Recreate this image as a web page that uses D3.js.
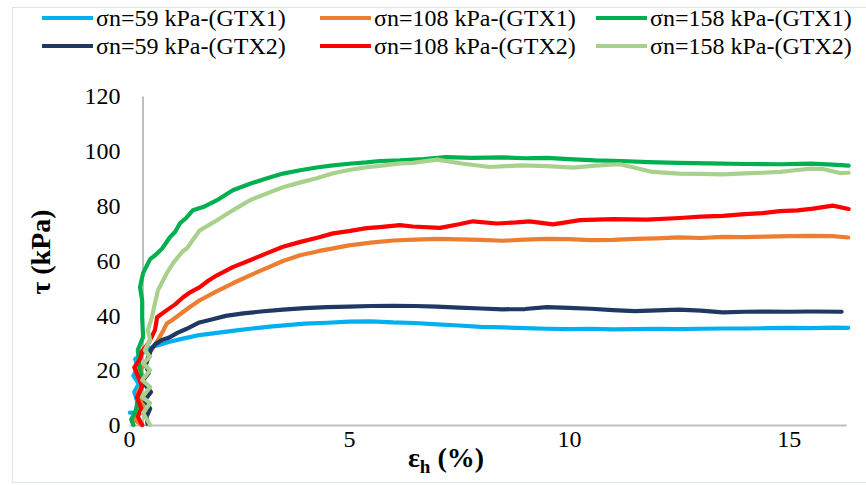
<!DOCTYPE html>
<html><head><meta charset="utf-8">
<script src="https://cdn.jsdelivr.net/npm/d3@7/dist/d3.min.js"></script>
<style>body{margin:0;background:#fff}svg{display:block}</style>
</head><body><svg id="c" width="866" height="485"></svg>
<script>
const seriesNames = ["σn=59 kPa-(GTX1)","σn=108 kPa-(GTX1)","σn=158 kPa-(GTX1)","σn=59 kPa-(GTX2)","σn=108 kPa-(GTX2)","σn=158 kPa-(GTX2)"];
const seriesColors = ["#00B0F0","#ED7D31","#00B050","#1F3864","#FF0000","#A9D18E"];
const xTicks = [0,5,10,15];
const yTicks = [0,20,40,60,80,100,120];

const s59GTX1 = [[0.02,4.5],[0.15,4.6],[0.3,4.8],[0.2,8],[0.12,12],[0.22,15],[0.1,18],[0.2,21],[0.14,24],[0.3,26],[0.4,27.5],[0.55,28.6],[0.7,29.3],[0.9,30.3],[1.2,31.4],[1.6,32.8],[2.0,33.6],[2.4,34.4],[2.8,35.2],[3.2,35.9],[3.6,36.4],[4.0,37.0],[4.5,37.3],[5.0,37.7],[5.5,37.8],[6.0,37.4],[6.5,37.2],[7.0,36.7],[7.5,36.3],[8.0,35.8],[8.5,35.6],[9.0,35.3],[9.5,35.1],[10.0,35.0],[10.5,35.1],[11.0,34.9],[11.5,35.0],[12.0,35.1],[12.5,35.0],[13.0,35.1],[13.5,35.2],[14.0,35.2],[14.5,35.3],[15.0,35.4],[15.5,35.3],[16.0,35.5],[16.35,35.4]];
const s108GTX1 = [[0.3,0],[0.1,2],[0.2,5],[0.35,4],[0.3,8],[0.2,12],[0.35,16],[0.25,20],[0.4,23],[0.45,26],[0.55,28.4],[0.66,31],[0.78,34.5],[0.86,37],[1.0,38.5],[1.23,41.2],[1.4,43.2],[1.61,45.5],[2.0,48.8],[2.36,51.7],[2.75,54.6],[3.14,57.3],[3.5,59.8],[3.89,61.9],[4.3,63.4],[4.7,64.6],[5.0,65.5],[5.5,66.5],[6.0,67.3],[6.5,67.6],[7.0,67.9],[7.5,67.7],[8.0,67.5],[8.5,67.2],[9.0,67.6],[9.5,67.9],[10.0,67.8],[10.5,67.4],[11.0,67.5],[11.5,67.9],[12.0,68.1],[12.5,68.4],[13.0,68.2],[13.5,68.6],[14.0,68.5],[14.5,68.7],[15.0,68.9],[15.5,69.0],[16.0,68.9],[16.35,68.4]];
const s158GTX1 = [[0.1,0],[0.05,2],[0.15,5],[0.2,9],[0.3,15.3],[0.25,21],[0.2,27.3],[0.32,32],[0.3,39.3],[0.3,45.5],[0.25,50.3],[0.32,55.4],[0.48,60.5],[0.6,62],[0.75,64.3],[0.93,68.5],[1.05,70.5],[1.16,73.6],[1.3,75.5],[1.45,78.3],[1.7,79.6],[2.0,82],[2.36,85.6],[2.75,88],[3.14,90],[3.5,91.7],[3.89,92.9],[4.3,94.0],[4.64,94.7],[5.0,95.3],[5.4,95.8],[5.7,96.3],[6.16,96.5],[6.7,97.0],[7.2,97.7],[7.8,97.4],[8.5,97.6],[9.0,97.3],[9.5,97.4],[10.0,97.0],[10.6,96.5],[11.2,96.3],[11.8,95.9],[12.5,95.6],[13.2,95.4],[14.0,95.2],[14.8,95.1],[15.5,95.3],[16.0,95.0],[16.36,94.6]];
const s59GTX2 = [[0.42,0.5],[0.4,3],[0.48,6],[0.36,9],[0.5,12],[0.4,14],[0.3,16],[0.45,19],[0.38,22],[0.45,25],[0.5,27.5],[0.6,29.5],[0.75,31],[0.9,31.8],[1.1,33.6],[1.3,35],[1.6,37.4],[1.9,38.6],[2.2,39.8],[2.6,40.7],[3.0,41.4],[3.5,42.1],[4.0,42.6],[4.5,43.0],[5.0,43.2],[5.5,43.4],[6.0,43.5],[6.5,43.4],[7.0,43.2],[7.5,42.8],[8.0,42.5],[8.5,42.2],[9.0,42.3],[9.5,43.0],[10.0,42.7],[10.5,42.4],[11.0,41.9],[11.5,41.5],[12.0,41.8],[12.5,42.1],[13.0,41.7],[13.5,41.1],[14.0,41.3],[14.5,41.4],[15.0,41.3],[15.5,41.4],[16.2,41.3]];
const s108GTX2 = [[0.3,0],[0.2,3],[0.28,6],[0.18,10],[0.3,14],[0.2,18],[0.12,21],[0.25,24],[0.3,27],[0.45,30],[0.59,34.6],[0.64,39.3],[0.86,41.9],[1.05,44],[1.23,46.6],[1.4,48.5],[1.61,50.3],[1.8,52.6],[2.0,54.6],[2.36,57.6],[2.75,60.1],[3.14,62.7],[3.5,65],[3.9,66.8],[4.3,68.4],[4.64,69.9],[5.0,70.7],[5.4,71.8],[5.7,72.2],[6.16,72.9],[6.45,72.4],[7.07,71.9],[7.5,73.2],[7.82,74.3],[8.36,73.5],[8.8,73.9],[9.11,74.3],[9.64,73.2],[10.25,74.7],[11.0,75.1],[11.77,74.9],[12.52,75.5],[13.0,76.0],[13.5,76.3],[14.0,76.9],[14.4,77.3],[14.8,78.0],[15.2,78.3],[15.55,78.9],[16.0,80.0],[16.36,78.8]];
const s158GTX2 = [[0.48,0],[0.32,4.4],[0.48,8],[0.3,10.2],[0.48,13.8],[0.3,16.4],[0.48,20],[0.32,22.6],[0.48,24.8],[0.36,27.3],[0.48,31],[0.43,34.6],[0.52,39.3],[0.59,44.4],[0.66,49.2],[0.75,52],[0.86,55.4],[1.0,59],[1.1,61],[1.23,63.5],[1.32,64.5],[1.45,67.5],[1.61,71],[2.0,74.7],[2.36,78.3],[2.75,82],[3.14,84.5],[3.5,86.7],[3.9,88.5],[4.27,90],[4.64,91.8],[5.0,93],[5.4,94],[5.7,94.5],[6.16,95.4],[6.45,95.6],[7.0,96.8],[7.6,95.3],[8.2,94.1],[8.9,94.7],[9.5,94.4],[10.1,93.9],[10.6,94.6],[11.16,95.1],[11.5,93.8],[11.9,92.3],[12.5,91.7],[13.0,91.6],[13.5,91.4],[14.0,91.8],[14.4,92.0],[14.8,92.3],[15.2,93.0],[15.5,93.5],[15.8,93.3],[16.16,91.9],[16.36,92.0]];
const seriesData = [s59GTX1,s108GTX1,s158GTX1,s59GTX2,s108GTX2,s158GTX2];

const SERIF = '"Liberation Serif"';
const svg = d3.select("#c");
const x = d3.scaleLinear().domain([0,16.3]).range([129,846]);
const y = d3.scaleLinear().domain([0,120]).range([425,96]);

// chart border
svg.append("rect").attr("x",12.5).attr("y",7.5).attr("width",880).attr("height",475)
  .attr("fill","none").attr("stroke","#dde4ec").attr("stroke-width",1);

// x axis
const gx = svg.append("g").attr("transform","translate(0,425)")
  .call(d3.axisBottom(x).tickValues(xTicks).tickSize(0).tickFormat(d3.format("d")));
gx.select(".domain").attr("stroke","#BFBFBF").attr("stroke-width",2);
gx.selectAll("text").style("font-family",SERIF).style("font-size","24px").attr("fill","#000")
  .attr("y",14).attr("dy","0.35em");

// y axis (drawn at a slight offset, as in the reference)
const gy = svg.append("g").attr("transform","translate(142.5,0)")
  .call(d3.axisLeft(y).tickValues(yTicks).tickSize(0).tickPadding(22));
gy.select(".domain").attr("stroke","#BFBFBF").attr("stroke-width",2);
gy.selectAll("text").style("font-family",SERIF).style("font-size","24px").attr("fill","#000");

// lines
const line = d3.line().x(d=>x(d[0])).y(d=>y(d[1]));
svg.append("g").selectAll("path").data(seriesData).join("path")
  .attr("d",line).attr("fill","none")
  .attr("stroke",(d,i)=>seriesColors[i]).attr("stroke-width",4.2)
  .attr("stroke-linejoin","round").attr("stroke-linecap","round");

// axis titles
svg.append("text").attr("transform","translate(40,252) rotate(-90)")
  .attr("text-anchor","middle").attr("dominant-baseline","central")
  .style("font-family",SERIF).style("font-weight","bold").style("font-size","28px").text("τ (kPa)");
const xt = svg.append("text").attr("x",446).attr("y",467).attr("text-anchor","middle")
  .style("font-family",SERIF).style("font-weight","bold").style("font-size","28px");
xt.append("tspan").text("ε");
xt.append("tspan").style("font-size","19px").attr("dy",6).text("h");
xt.append("tspan").attr("dy",-6).text(" (%)");

// legend
const legX = [42,320,596], legY = [18,46];
const leg = svg.append("g").selectAll("g").data(seriesNames).join("g")
  .attr("transform",(d,i)=>`translate(${legX[i%3]},${legY[Math.floor(i/3)]})`);
leg.append("line").attr("x1",0).attr("x2",51).attr("y1",0).attr("y2",0)
  .attr("stroke",(d,i)=>seriesColors[i]).attr("stroke-width",4);
leg.append("text").attr("x",54).attr("dy","0.35em")
  .style("font-family",SERIF).style("font-size","24px").text(d=>d);
</script></body></html>
